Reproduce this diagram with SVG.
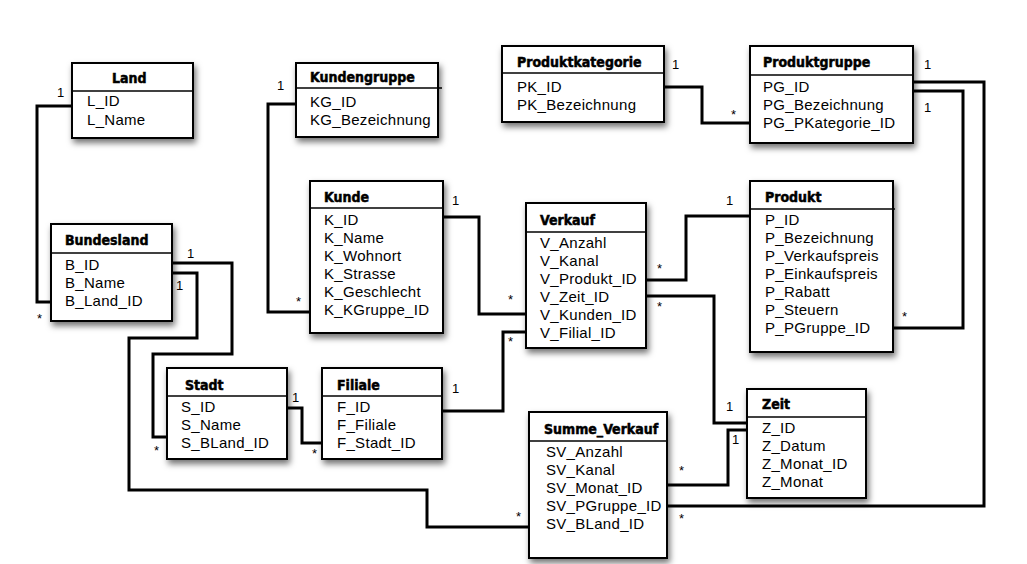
<svg xmlns="http://www.w3.org/2000/svg" width="1027" height="564" viewBox="0 0 1027 564">
<defs>
<filter id="sh" x="-10%" y="-10%" width="130%" height="140%">
<feDropShadow dx="2" dy="4" stdDeviation="3" flood-color="#000" flood-opacity="0.55"/>
</filter>
<style>
.box{fill:#fff;stroke:#000;stroke-width:2;filter:url(#sh)}
.div{stroke:#000;stroke-width:1.5}
.t{font-family:"DejaVu Sans Condensed","DejaVu Sans",sans-serif;font-weight:bold;font-size:14px;fill:#000;stroke:#000;stroke-width:0.5}
.f{font-family:"Liberation Sans",Arial,sans-serif;font-size:15px;letter-spacing:0.3px;fill:#000}
.m{font-family:"Liberation Sans",Arial,sans-serif;font-size:13px;fill:#000}
.c{fill:none;stroke:#000;stroke-width:3}
</style>
</defs>
<rect width="1027" height="564" fill="#fff"/>

<g id="connectors">
<path class="c" d="M72,106 H37 V302 H51"/>
<path class="c" d="M172,263 H232 V354 H153 V437 H167"/>
<path class="c" d="M172,273 H197 V338 H129 V490 H427 V527 H529"/>
<path class="c" d="M287,408 H302 V443 H322"/>
<path class="c" d="M442,411 H503 V332 H526"/>
<path class="c" d="M296,104 H268 V312 H310"/>
<path class="c" d="M443,217 H479 V314 H526"/>
<path class="c" d="M646,280 H686 V216 H750"/>
<path class="c" d="M646,296 H714 V423 H747"/>
<path class="c" d="M667,485 H728 V430 H747"/>
<path class="c" d="M667,506 H984 V82 H913"/>
<path class="c" d="M913,91 H963 V328 H893"/>
<path class="c" d="M664,87 H702 V123 H750"/>
<text class="m" x="57" y="97">1</text>
<text class="m" x="37" y="323">*</text>
<text class="m" x="187" y="258">1</text>
<text class="m" x="176" y="290">1</text>
<text class="m" x="154" y="455">*</text>
<text class="m" x="292" y="402">1</text>
<text class="m" x="312" y="458">*</text>
<text class="m" x="452" y="393">1</text>
<text class="m" x="508" y="346">*</text>
<text class="m" x="452" y="205">1</text>
<text class="m" x="508" y="304">*</text>
<text class="m" x="657" y="273">*</text>
<text class="m" x="726" y="205">1</text>
<text class="m" x="657" y="311">*</text>
<text class="m" x="726" y="411">1</text>
<text class="m" x="732" y="444">1</text>
<text class="m" x="679" y="475">*</text>
<text class="m" x="679" y="523">*</text>
<text class="m" x="516" y="521">*</text>
<text class="m" x="672" y="69">1</text>
<text class="m" x="731" y="119">*</text>
<text class="m" x="924" y="69">1</text>
<text class="m" x="924" y="112">1</text>
<text class="m" x="902" y="321">*</text>
<text class="m" x="277" y="90">1</text>
<text class="m" x="296" y="306">*</text>
</g>

<g id="Land">
<rect class="box" x="72" y="63" width="121" height="75"/>
<line class="div" x1="72" y1="91" x2="193" y2="91"/>
<text class="t" x="112" y="83">Land</text>
<text class="f" x="87" y="106">L_ID</text>
<text class="f" x="87" y="125">L_Name</text>
</g>

<g id="Bundesland">
<rect class="box" x="51" y="224" width="121" height="97"/>
<line class="div" x1="51" y1="253" x2="172" y2="253"/>
<text class="t" x="65" y="245">Bundesland</text>
<text class="f" x="65" y="270">B_ID</text>
<text class="f" x="65" y="288">B_Name</text>
<text class="f" x="65" y="306">B_Land_ID</text>
</g>

<g id="Kundengruppe">
<rect class="box" x="296" y="63" width="142" height="74"/>
<line class="div" x1="296" y1="88" x2="442" y2="88"/>
<text class="t" x="310" y="82">Kundengruppe</text>
<text class="f" x="310" y="107">KG_ID</text>
<text class="f" x="310" y="125">KG_Bezeichnung</text>
</g>

<g id="Kunde">
<rect class="box" x="310" y="181" width="133" height="152"/>
<line class="div" x1="310" y1="208" x2="443" y2="208"/>
<text class="t" x="324" y="202">Kunde</text>
<text class="f" x="324" y="225">K_ID</text>
<text class="f" x="324" y="243">K_Name</text>
<text class="f" x="324" y="261">K_Wohnort</text>
<text class="f" x="324" y="279">K_Strasse</text>
<text class="f" x="324" y="297">K_Geschlecht</text>
<text class="f" x="324" y="315">K_KGruppe_ID</text>
</g>

<g id="Produktkategorie">
<rect class="box" x="502" y="46" width="162" height="76"/>
<line class="div" x1="502" y1="73" x2="664" y2="73"/>
<text class="t" x="517" y="67">Produktkategorie</text>
<text class="f" x="517" y="92">PK_ID</text>
<text class="f" x="517" y="110">PK_Bezeichnung</text>
</g>

<g id="Produktgruppe">
<rect class="box" x="750" y="46" width="163" height="97"/>
<line class="div" x1="750" y1="75" x2="913" y2="75"/>
<text class="t" x="763" y="67">Produktgruppe</text>
<text class="f" x="763" y="92">PG_ID</text>
<text class="f" x="763" y="110">PG_Bezeichnung</text>
<text class="f" x="763" y="128">PG_PKategorie_ID</text>
</g>

<g id="Verkauf">
<rect class="box" x="526" y="203" width="120" height="145"/>
<line class="div" x1="526" y1="232" x2="646" y2="232"/>
<text class="t" x="540" y="225">Verkauf</text>
<text class="f" x="540" y="248">V_Anzahl</text>
<text class="f" x="540" y="266">V_Kanal</text>
<text class="f" x="540" y="284">V_Produkt_ID</text>
<text class="f" x="540" y="302">V_Zeit_ID</text>
<text class="f" x="540" y="320">V_Kunden_ID</text>
<text class="f" x="540" y="338">V_Filial_ID</text>
</g>

<g id="Produkt">
<rect class="box" x="750" y="181" width="143" height="171"/>
<line class="div" x1="750" y1="209" x2="895" y2="209"/>
<text class="t" x="765" y="202">Produkt</text>
<text class="f" x="765" y="225">P_ID</text>
<text class="f" x="765" y="243">P_Bezeichnung</text>
<text class="f" x="765" y="261">P_Verkaufspreis</text>
<text class="f" x="765" y="279">P_Einkaufspreis</text>
<text class="f" x="765" y="297">P_Rabatt</text>
<text class="f" x="765" y="315">P_Steuern</text>
<text class="f" x="765" y="333">P_PGruppe_ID</text>
</g>

<g id="Stadt">
<rect class="box" x="167" y="368" width="120" height="91"/>
<line class="div" x1="167" y1="396" x2="287" y2="396"/>
<text class="t" x="185" y="390">Stadt</text>
<text class="f" x="181" y="412">S_ID</text>
<text class="f" x="181" y="430">S_Name</text>
<text class="f" x="181" y="448">S_BLand_ID</text>
</g>

<g id="Filiale">
<rect class="box" x="322" y="368" width="120" height="91"/>
<line class="div" x1="322" y1="396" x2="442" y2="396"/>
<text class="t" x="337" y="390">Filiale</text>
<text class="f" x="337" y="412">F_ID</text>
<text class="f" x="337" y="430">F_Filiale</text>
<text class="f" x="337" y="448">F_Stadt_ID</text>
</g>

<g id="Zeit">
<rect class="box" x="747" y="389" width="119" height="109"/>
<line class="div" x1="747" y1="417" x2="866" y2="417"/>
<text class="t" x="762" y="409">Zeit</text>
<text class="f" x="762" y="433">Z_ID</text>
<text class="f" x="762" y="451">Z_Datum</text>
<text class="f" x="762" y="469">Z_Monat_ID</text>
<text class="f" x="762" y="487">Z_Monat</text>
</g>

<g id="Summe_Verkauf">
<rect class="box" x="529" y="412" width="138" height="146"/>
<line class="div" x1="529" y1="441" x2="667" y2="441"/>
<text class="t" x="544" y="434">Summe_Verkauf</text>
<text class="f" x="546" y="457">SV_Anzahl</text>
<text class="f" x="546" y="475">SV_Kanal</text>
<text class="f" x="546" y="493">SV_Monat_ID</text>
<text class="f" x="546" y="511">SV_PGruppe_ID</text>
<text class="f" x="546" y="529">SV_BLand_ID</text>
</g>
</svg>
